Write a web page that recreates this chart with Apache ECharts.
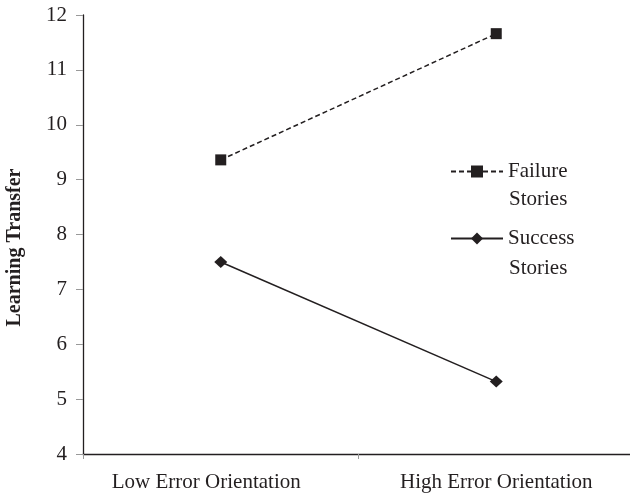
<!DOCTYPE html>
<html>
<head>
<meta charset="utf-8">
<script src="https://cdn.jsdelivr.net/npm/echarts@6/dist/echarts.min.js"></script>
<style>html,body{margin:0;padding:0;background:#fff;}#c{width:630px;height:497px;}</style>
</head>
<body>
<div id="c"></div>
<script>
var categories = ['Low Error Orientation', 'High Error Orientation'];
var failureStories = [9.36, 11.66];
var successStories = [7.5, 5.32];
var yTicks = [4, 5, 6, 7, 8, 9, 10, 11, 12];
var seriesNames = ['Failure Stories', 'Success Stories'];

var font = 'Liberation Serif';
var ink = '#231f20';
var chart = echarts.init(document.getElementById('c'), null, {renderer: 'canvas'});
chart.setOption({
  animation: false,
  backgroundColor: '#fff',
  textStyle: {fontFamily: font},
  grid: {left: 83, right: -4, top: 15, bottom: 43, containLabel: false, outerBoundsMode: 'none'},
  xAxis: {
    type: 'category',
    boundaryGap: true,
    data: [
      {value: categories[0], textStyle: {padding: [0, 29, 0, 0]}},
      {value: categories[1]}
    ],
    axisLine: {lineStyle: {color: ink, width: 1.3}},
    axisTick: {show: true, length: 5, lineStyle: {color: '#999'}},
    axisLabel: {fontFamily: font, fontSize: 21, color: ink, margin: 18}
  },
  yAxis: {
    type: 'value',
    min: yTicks[0],
    max: yTicks[yTicks.length - 1],
    interval: 1,
    name: 'Learning Transfer',
    nameLocation: 'middle',
    nameGap: 58,
    nameRotate: 90,
    nameTextStyle: {fontFamily: font, fontSize: 20, fontWeight: 'bold', color: ink, padding: [0, 0, 0, -26]},
    axisLine: {show: true, lineStyle: {color: ink, width: 1.3}},
    axisTick: {show: true, length: 7, lineStyle: {color: '#999'}},
    splitLine: {show: false},
    axisLabel: {fontFamily: font, fontSize: 21, color: ink, margin: 16}
  },
  legend: {
    orient: 'vertical',
    left: 450,
    top: 161,
    padding: 0,
    itemWidth: 52,
    itemHeight: 15,
    itemGap: 46,
    textStyle: {fontFamily: font, fontSize: 21, color: ink, lineHeight: 21},
    formatter: function (n) { return n.split(' ')[0]; },
    data: seriesNames
  },
  graphic: [
    {type: 'text', left: 509, top: 189, style: {text: 'Stories', font: '21px "Liberation Serif"', fill: ink}},
    {type: 'text', left: 509, top: 258, style: {text: 'Stories', font: '21px "Liberation Serif"', fill: ink}}
  ],
  series: [
    {
      name: seriesNames[0],
      type: 'line',
      data: failureStories,
      symbol: 'rect',
      symbolSize: 11,
      itemStyle: {color: ink},
      lineStyle: {color: ink, width: 1.5, type: [5, 3]}
    },
    {
      name: seriesNames[1],
      type: 'line',
      data: successStories,
      symbol: 'diamond',
      symbolSize: [13, 12],
      itemStyle: {color: ink},
      lineStyle: {color: ink, width: 1.5, type: 'solid'}
    }
  ]
});
</script>
</body>
</html>
